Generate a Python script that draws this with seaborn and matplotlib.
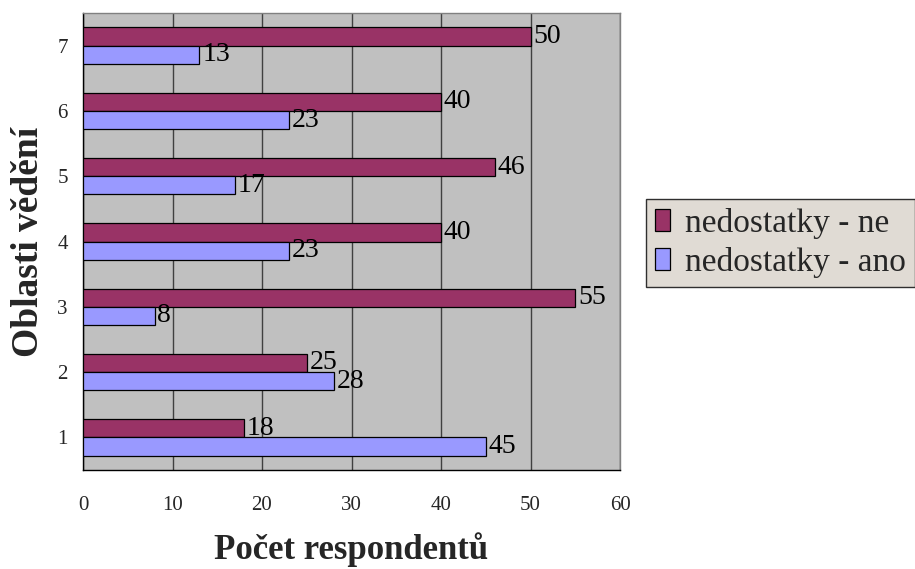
import matplotlib
matplotlib.use("Agg")
import matplotlib.pyplot as plt
import seaborn as sns
import pandas as pd
import numpy as np

# Survey results per knowledge area
categories = ["1", "2", "3", "4", "5", "6", "7"]
ne_values = [18, 25, 55, 40, 46, 40, 50]
ano_values = [45, 28, 8, 23, 17, 23, 13]
series_names = ["nedostatky - ne", "nedostatky - ano"]
x_ticks = [0, 10, 20, 30, 40, 50, 60]

df = pd.DataFrame({
    "oblast": categories * 2,
    "pocet": ne_values + ano_values,
    "serie": [series_names[0]] * len(categories) + [series_names[1]] * len(categories),
})

sns.set_theme(style="white")
plt.rcParams["font.family"] = ["Liberation Serif", "DejaVu Serif"]

fig = plt.figure(figsize=(9.15, 5.69), dpi=100)
ax = fig.add_axes([83 / 915, 1 - 470 / 569, (620 - 83) / 915, (470 - 13) / 569])
ax.set_facecolor("#C0C0C0")

palette = {series_names[0]: "#993366", series_names[1]: "#9999FF"}
order = categories[::-1]
sns.barplot(data=df, x="pocet", y="oblast", hue="serie", order=order,
            hue_order=series_names, palette=palette, orient="h",
            width=0.56, edgecolor="black", linewidth=0.9, saturation=1,
            errorbar=None, ax=ax, zorder=3)

# value labels at the end of each bar
for cont in ax.containers:
    ax.bar_label(cont, padding=2, fontsize=20, color="black")

ax.set_xlim(0, 60)
ax.set_ylim(len(categories) - 0.5, -0.5)
ax.set_xticks(x_ticks)
ax.set_xticklabels([str(t) for t in x_ticks], fontsize=15)
ax.tick_params(axis="x", direction="out", length=6, width=1, color="black", pad=13)
ax.tick_params(axis="y", which="major", length=0, labelsize=15, pad=11)
ax.set_yticks(np.arange(-0.5, len(categories) + 0.5, 1), minor=True)
ax.tick_params(axis="y", which="minor", direction="out", length=6, width=1, color="black")

ax.xaxis.grid(True, color="#404040", linewidth=1.0, zorder=1)
ax.set_axisbelow(True)

for side in ["left", "bottom"]:
    ax.spines[side].set_color("black")
    ax.spines[side].set_linewidth(1.0)
for side in ["top", "right"]:
    ax.spines[side].set_color("#808080")
    ax.spines[side].set_linewidth(1.0)

ax.set_xlabel("Počet respondentů", fontsize=25, fontweight="bold", labelpad=12)
ax.set_ylabel("Oblasti vědění", fontsize=27, fontweight="bold", labelpad=8)

ax.get_legend().remove()
handles, labels = ax.get_legend_handles_labels()
leg = fig.legend(handles, labels, loc="upper left",
                 bbox_to_anchor=(646 / 915, 1 - 199 / 569),
                 fontsize=24, frameon=True, fancybox=False,
                 facecolor="#D9D3CA", edgecolor="black",
                 handlelength=0.45, handleheight=0.63, handletextpad=0.45,
                 borderpad=0.27, labelspacing=0.24, borderaxespad=0)
leg.get_frame().set_linewidth(1.0)

fig.savefig("out.png", dpi=100, facecolor="white")
